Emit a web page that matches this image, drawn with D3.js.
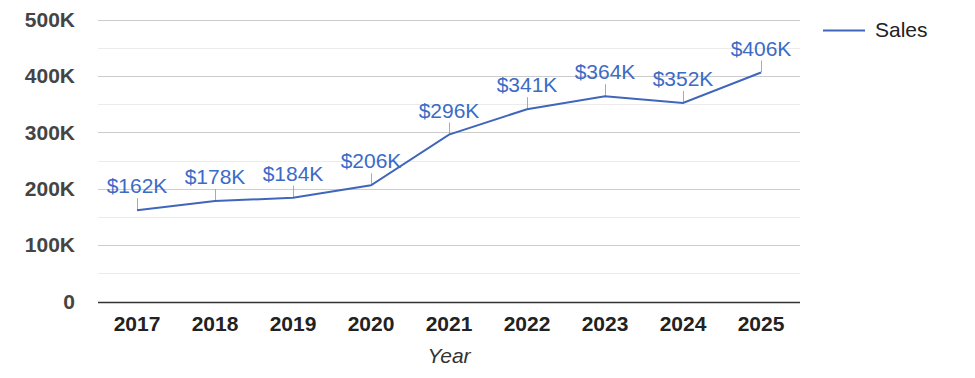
<!DOCTYPE html>
<html>
<head>
<meta charset="utf-8">
<script src="https://cdn.jsdelivr.net/npm/d3@7"></script>
<style>
  body { margin: 0; background: #fff; }
  text { font-family: "Liberation Sans", Arial, sans-serif; }
</style>
</head>
<body>
<div id="chart"></div>
<script>
var years = ["2017", "2018", "2019", "2020", "2021", "2022", "2023", "2024", "2025"];
var sales = [162000, 178000, 184000, 206000, 296000, 341000, 364000, 352000, 406000];
var yTicks = [0, 100000, 200000, 300000, 400000, 500000];
var yMinorTicks = [50000, 150000, 250000, 350000, 450000];
var seriesName = "Sales";

var svgWidth = 975;
var svgHeight = 378;
var plotLeft = 98, plotRight = 800, plotTop = 19.5, plotBottom = 301.5;

var svg = d3.select("#chart")
  .append("svg")
  .attr("width", svgWidth)
  .attr("height", svgHeight);

var xScale = d3.scaleBand()
  .domain(years)
  .range([plotLeft, plotRight]);

var yScale = d3.scaleLinear()
  .domain([0, 500000])
  .range([plotBottom, plotTop]);

// minor gridlines
svg.selectAll(".minor")
  .data(yMinorTicks)
  .enter().append("line")
  .attr("x1", plotLeft).attr("x2", plotRight)
  .attr("y1", d => Math.round(yScale(d)) + 0.5)
  .attr("y2", d => Math.round(yScale(d)) + 0.5)
  .attr("stroke", "#ebebeb");

// major gridlines
svg.selectAll(".major")
  .data(yTicks.filter(d => d > 0))
  .enter().append("line")
  .attr("x1", plotLeft).attr("x2", plotRight)
  .attr("y1", d => Math.round(yScale(d)) + 0.5)
  .attr("y2", d => Math.round(yScale(d)) + 0.5)
  .attr("stroke", "#cccccc");

// y axis labels
svg.selectAll(".ylab")
  .data(yTicks)
  .enter().append("text")
  .attr("x", 75)
  .attr("y", d => yScale(d))
  .attr("dy", "0.35em")
  .attr("text-anchor", "end")
  .attr("font-size", 21)
  .attr("font-weight", "bold")
  .attr("fill", "#444")
  .text(d => d === 0 ? "0" : (d / 1000) + "K");

// x axis line
svg.append("line")
  .attr("x1", plotLeft).attr("x2", plotRight)
  .attr("y1", Math.round(yScale(0)) + 0.5)
  .attr("y2", Math.round(yScale(0)) + 0.5)
  .attr("stroke", "#333")
  .attr("stroke-width", 1.5);

// x labels
svg.selectAll(".xlab")
  .data(years)
  .enter().append("text")
  .attr("x", d => xScale(d) + xScale.bandwidth() / 2)
  .attr("y", 324)
  .attr("dy", "0.35em")
  .attr("text-anchor", "middle")
  .attr("font-size", 21)
  .attr("font-weight", "bold")
  .attr("fill", "#222")
  .text(d => d);

svg.append("text")
  .attr("x", (plotLeft + plotRight) / 2)
  .attr("y", 356)
  .attr("dy", "0.35em")
  .attr("text-anchor", "middle")
  .attr("font-size", 21)
  .attr("font-style", "italic")
  .attr("fill", "#333")
  .text("Year");

var points = years.map((y, i) => ({ year: y, value: sales[i] }));

var lineGenerator = d3.line()
  .x(d => xScale(d.year) + xScale.bandwidth() / 2)
  .y(d => yScale(d.value));

// leader ticks
svg.selectAll(".leader")
  .data(points)
  .enter().append("line")
  .attr("x1", d => Math.round(xScale(d.year) + xScale.bandwidth() / 2) + 0.5)
  .attr("x2", d => Math.round(xScale(d.year) + xScale.bandwidth() / 2) + 0.5)
  .attr("y1", d => yScale(d.value))
  .attr("y2", d => yScale(d.value) - 12)
  .attr("stroke", "#aaa");

svg.append("path")
  .attr("fill", "none")
  .attr("stroke", "#3f66bb")
  .attr("stroke-width", 2)
  .attr("d", lineGenerator(points));

// value labels
svg.selectAll(".vlab")
  .data(points)
  .enter().append("text")
  .attr("x", d => xScale(d.year) + xScale.bandwidth() / 2)
  .attr("y", d => yScale(d.value) - 17)
  .attr("text-anchor", "middle")
  .attr("font-size", 21)
  .attr("fill", "#3b6bc6")
  .text(d => "$" + Math.round(d.value / 1000) + "K");

// legend
svg.append("line")
  .attr("x1", 823).attr("x2", 865)
  .attr("y1", 30.5).attr("y2", 30.5)
  .attr("stroke", "#3f66bb")
  .attr("stroke-width", 2);

svg.append("text")
  .attr("x", 875)
  .attr("y", 30)
  .attr("dy", "0.35em")
  .attr("font-size", 21)
  .attr("fill", "#222")
  .text(seriesName);
</script>
</body>
</html>
